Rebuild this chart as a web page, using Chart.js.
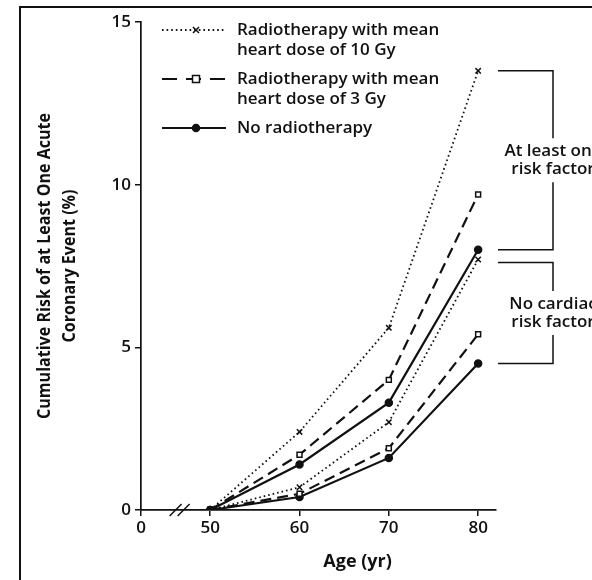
<!DOCTYPE html>
<html>
<head>
<meta charset="utf-8">
<script src="https://cdn.jsdelivr.net/npm/chart.js@4"></script>
<style>
  html, body { margin: 0; padding: 0; background: #fff; }
  #wrap { width: 592px; height: 580px; }
</style>
</head>
<body>
<div id="wrap"><canvas id="chart" width="592" height="580"></canvas></div>
<script>
// Valores
const ages = [50, 60, 70, 80];
const dose10Risk = [0, 2.4, 5.6, 13.5];
const dose3Risk = [0, 1.7, 4.0, 9.7];
const noRadRisk = [0, 1.4, 3.3, 8.0];
const dose10NoRisk = [0, 0.7, 2.7, 7.7];
const dose3NoRisk = [0, 0.5, 1.9, 5.4];
const noRadNoRisk = [0, 0.4, 1.6, 4.5];

const yTicks = [0, 5, 10, 15];
const xTicks = [50, 60, 70, 80];
const xBreakLabel = '0';
const axisStart = 42.25; // inicio do eixo quebrado
const axisEnd = 82;

const legendLabels = [
    ['Radiotherapy with mean', 'heart dose of 10 Gy'],
    ['Radiotherapy with mean', 'heart dose of 3 Gy'],
    ['No radiotherapy']
];
const groupLabels = [
    ['At least one', 'risk factor'],
    ['No cardiac', 'risk factor']
];
const yTitle = ['Cumulative Risk of at Least One Acute', 'Coronary Event (%)'];
const xTitle = 'Age (yr)';

const FONT = "'Open Sans', 'DejaVu Sans', sans-serif";
const TXT = '600 17px ' + FONT;
const INK = '#111';

// estilos das tres series
const estilos = [
    { dash: [1.6, 3], width: 1.8, point: 'crossRot', radius: 3.8, fill: INK },
    { dash: [11, 6], width: 2.2, point: 'rect', radius: 3.5, fill: '#fff' },
    { dash: [], width: 2.2, point: 'circle', radius: 3.5, fill: INK }
];

function serie(valores, estilo) {
    return {
        data: ages.map((a, i) => ({ x: a, y: valores[i] })),
        borderColor: INK,
        borderWidth: estilo.width,
        borderDash: estilo.dash,
        pointStyle: estilo.point,
        pointRadius: estilo.radius,
        // o ponto comum em 50 aparece como um quadrado preto
        pointBackgroundColor: ages.map((a, i) => (i === 0 ? INK : estilo.fill)),
        pointBorderColor: INK,
        pointBorderWidth: 1.5,
        tension: 0
    };
}

const datasets = [
    serie(dose10Risk, estilos[0]),
    serie(dose3Risk, estilos[1]),
    serie(noRadRisk, estilos[2]),
    serie(dose10NoRisk, estilos[0]),
    serie(dose3NoRisk, estilos[1]),
    serie(noRadNoRisk, estilos[2])
];
// o quadrado fica por cima
datasets[1].order = -1;

// Desenhos extras: moldura, legenda, chaves, titulos, quebra do eixo
const extras = {
    id: 'extras',
    afterDraw(chart) {
        const ctx = chart.ctx;
        const area = chart.chartArea;
        const x = chart.scales.x;
        const y = chart.scales.y;
        ctx.save();

        // moldura
        ctx.strokeStyle = INK;
        ctx.lineWidth = 2;
        ctx.beginPath();
        ctx.moveTo(592, 7);
        ctx.lineTo(20, 7);
        ctx.lineTo(20, 580);
        ctx.stroke();

        // quebra do eixo x
        const bx = (area.left + x.getPixelForValue(ages[0])) / 2 + 4;
        ctx.lineWidth = 1.5;
        ctx.beginPath();
        [-4, 4].forEach(d => {
            ctx.moveTo(bx + d - 6, area.bottom + 6);
            ctx.lineTo(bx + d + 6, area.bottom - 6);
        });
        ctx.stroke();

        // legenda
        const ly = [30, 79, 128];
        legendLabels.forEach((linhas, i) => {
            const e = estilos[i];
            const mx = area.left + 55;
            ctx.strokeStyle = INK;
            ctx.lineWidth = e.width;
            ctx.setLineDash(i === 1 ? [15, 9] : e.dash);
            ctx.beginPath();
            ctx.moveTo(area.left + 21, ly[i]);
            ctx.lineTo(area.left + 85, ly[i]);
            ctx.stroke();
            ctx.setLineDash([]);
            ctx.fillStyle = e.fill;
            ctx.lineWidth = 1.5;
            ctx.beginPath();
            if (e.point === 'rect') {
                ctx.rect(mx - 3.5, ly[i] - 3.5, 7, 7);
            } else if (e.point === 'circle') {
                ctx.arc(mx, ly[i], 3.5, 0, Math.PI * 2);
            } else {
                ctx.moveTo(mx - 3, ly[i] - 3); ctx.lineTo(mx + 3, ly[i] + 3);
                ctx.moveTo(mx - 3, ly[i] + 3); ctx.lineTo(mx + 3, ly[i] - 3);
            }
            if (e.point !== 'crossRot') ctx.fill();
            ctx.stroke();

            ctx.fillStyle = INK;
            ctx.font = TXT;
            ctx.textAlign = 'left';
            ctx.textBaseline = 'middle';
            linhas.forEach((t, k) => ctx.fillText(t, area.left + 96, ly[i] + k * 20));
        });

        // chaves dos grupos
        const grupos = [
            [dose10Risk[3], noRadRisk[3]],
            [dose10NoRisk[3], noRadNoRisk[3]]
        ];
        const x0 = area.right + 2;
        const x1 = area.right + 57;
        grupos.forEach((g, i) => {
            const top = y.getPixelForValue(g[0]) + (i === 1 ? 3 : 0);
            const bot = y.getPixelForValue(g[1]);
            const mid = (top + bot) / 2;
            ctx.strokeStyle = INK;
            ctx.lineWidth = 1.5;
            ctx.beginPath();
            ctx.moveTo(x0, top);
            ctx.lineTo(x1, top);
            ctx.lineTo(x1, mid - 22);
            ctx.moveTo(x1, mid + 22);
            ctx.lineTo(x1, bot);
            ctx.lineTo(x0, bot);
            ctx.stroke();
            ctx.fillStyle = INK;
            ctx.font = TXT;
            ctx.textAlign = 'center';
            ctx.textBaseline = 'middle';
            ctx.fillText(groupLabels[i][0], x1, mid - 9);
            ctx.fillText(groupLabels[i][1], x1, mid + 9);
        });

        // titulo do eixo y (comprimido como na figura)
        const cy = (area.top + area.bottom) / 2;
        ctx.font = 'bold 17px ' + FONT;
        const maxW = 306;
        const w0 = ctx.measureText(yTitle[0]).width;
        const esc = Math.min(1, maxW / w0);
        [45, 70].forEach((cx, k) => {
            ctx.save();
            ctx.translate(cx, cy);
            ctx.rotate(-Math.PI / 2);
            ctx.scale(esc, 1);
            ctx.textAlign = 'center';
            ctx.textBaseline = 'middle';
            ctx.fillText(yTitle[k], 0, 0);
            ctx.restore();
        });

        // titulo do eixo x
        ctx.font = 'bold 18px ' + FONT;
        ctx.textAlign = 'center';
        ctx.textBaseline = 'middle';
        ctx.fillText(xTitle, x.getPixelForValue(66.5), 562);

        ctx.restore();
    }
};

new Chart(document.getElementById('chart'), {
    type: 'line',
    data: { datasets },
    options: {
        responsive: false,
        animation: false,
        layout: { padding: { left: 0, top: 22, right: 96, bottom: 0 } },
        plugins: { legend: { display: false }, tooltip: { enabled: false } },
        scales: {
            x: {
                type: 'linear',
                min: axisStart,
                max: axisEnd,
                afterBuildTicks: s => { s.ticks = [axisStart].concat(xTicks).map(v => ({ value: v })); },
                afterFit: s => { s.height = 70; },
                ticks: {
                    color: INK,
                    padding: 2,
                    font: { family: FONT, size: 17, weight: '600' },
                    callback: v => (v === axisStart ? xBreakLabel : String(v))
                },
                grid: { drawOnChartArea: false, tickLength: 6, color: INK, lineWidth: 1.5 },
                border: { color: INK, width: 1.7 }
            },
            y: {
                min: 0,
                max: 15,
                afterBuildTicks: s => { s.ticks = yTicks.map(v => ({ value: v })); },
                afterFit: s => { s.width = 141; },
                ticks: {
                    color: INK,
                    padding: 4,
                    font: { family: FONT, size: 17, weight: '600' }
                },
                grid: { drawOnChartArea: false, tickLength: 6, color: INK, lineWidth: 1.5 },
                border: { color: INK, width: 1.7 }
            }
        }
    },
    plugins: [extras]
});
</script>
</body>
</html>
